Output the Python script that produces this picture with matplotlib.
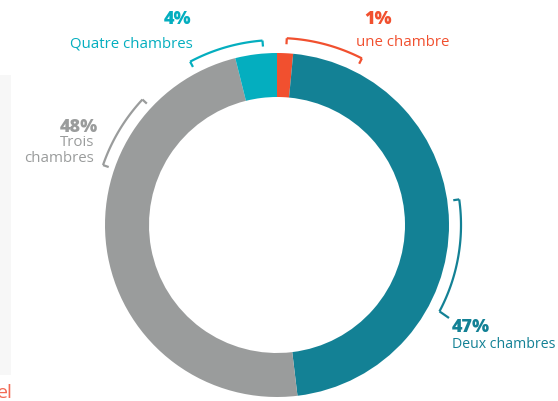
import numpy as np
import matplotlib
matplotlib.use("Agg")
import matplotlib.pyplot as plt
from matplotlib.patches import Rectangle

# ---- data ----
categories = ["une chambre", "Deux chambres", "Trois chambres", "Quatre chambres"]
label_pcts = ["1%", "47%", "48%", "4%"]
slice_shares = [1.5, 46.6, 48.0, 3.9]   # angular shares as drawn in the picture
colors = ["#F1502F", "#138195", "#9A9C9C", "#04AEBF"]

W, H = 558, 401
fig = plt.figure(figsize=(W / 100, H / 100), dpi=100)
ax = fig.add_axes([0, 0, 1, 1])
ax.set_axis_off()

cx, cy = 277, H - 225
R, width = 172, 44

ax.pie(slice_shares, colors=colors, startangle=90, counterclock=False,
       radius=R, center=(cx, cy),
       wedgeprops=dict(width=width, linewidth=0))
ax.set_xlim(0, W)
ax.set_ylim(0, H)
ax.set_aspect('equal')

# light side panel and cropped text at left
ax.add_patch(Rectangle((0, H - 375), 11, 300, facecolor="#F7F7F7", edgecolor="none", zorder=0))
ax.text(13, H - 393, "el", color="#F26A55", fontsize=14, ha="right", va="center",
        family="Open Sans")

def pt(theta_deg, r):
    t = np.radians(theta_deg)
    return cx + r * np.sin(t), cy + r * np.cos(t)

def bracket(a0, a1, r, color, tick=6, ends=(True, True)):
    th = np.linspace(a0, a1, 60)
    xs, ys = pt(th, r)
    ax.plot(xs, ys, color=color, lw=1.6, solid_capstyle="butt", solid_joinstyle="miter")
    for a, on in zip((a0, a1), ends):
        if on:
            x0, y0 = pt(a, r)
            x1, y1 = pt(a, r - tick)
            ax.plot([x0, x1], [y0, y1], color=color, lw=1.6, solid_capstyle="butt")

# brackets
bracket(-28, -4.5, 185, colors[3])
bracket(3, 27, 187, colors[0])
bracket(-71, -47, 184, colors[2])
bracket(82, 118, 184, colors[1], ends=(True, False))
# leader from teal bracket to label
xb, yb = pt(118, 184)
ax.plot([xb, 449], [yb, H - 318], color=colors[1], lw=1.6, solid_capstyle="butt")

fam = "Open Sans"
bw = "heavy"
fs_p, fs_t = 13, 10.8
# labels
ax.text(178, H - 20, label_pcts[3], color=colors[3], fontsize=fs_p, fontweight=bw,
        ha="center", va="center", family=fam)
ax.text(193, H - 44, categories[3], color=colors[3], fontsize=fs_t, ha="right", va="center",
        family=fam, fontweight="medium")

ax.text(378, H - 20, label_pcts[0], color=colors[0], fontsize=fs_p, fontweight=bw,
        ha="center", va="center", family=fam)
ax.text(403, H - 42, categories[0], color=colors[0], fontsize=fs_t, ha="center", va="center",
        family=fam, fontweight="medium")

ax.text(98, H - 127, label_pcts[2], color=colors[2], fontsize=fs_p, fontweight=bw,
        ha="right", va="center", family=fam)
ax.text(94, H - 143, "Trois", color=colors[2], fontsize=fs_t, ha="right", va="center",
        family=fam, fontweight="medium")
ax.text(94, H - 159, "chambres", color=colors[2], fontsize=fs_t, ha="right", va="center",
        family=fam, fontweight="medium")

ax.text(452, H - 327, label_pcts[1], color=colors[1], fontsize=fs_p, fontweight=bw,
        ha="left", va="center", family=fam)
ax.text(452, H - 345, categories[1], color=colors[1], fontsize=10.2, ha="left", va="center",
        family=fam, fontweight="medium")

fig.savefig("out.png", dpi=100)
